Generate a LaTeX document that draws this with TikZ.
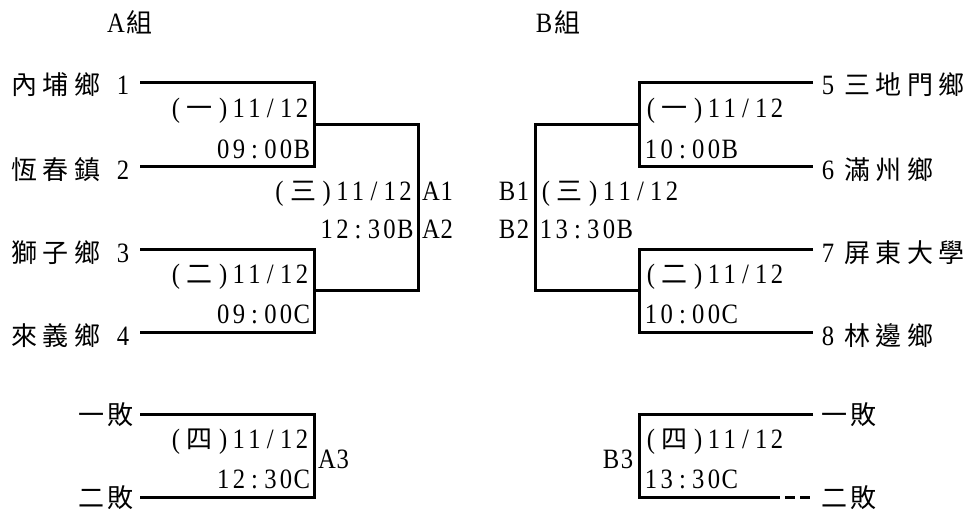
\documentclass[tikz,border=0pt]{standalone}
\usepackage{fontspec}
\setmainfont{Liberation Serif}[FakeStretch=0.88]
\newfontfamily\cjkfont{Noto Sans CJK TC}
\makeatletter
% half-width (Latin) characters, each in a fixed box
\newcommand\hw[1]{\hw@loop#1\@nil}
\def\hw@loop#1{\ifx#1\@nil\else\makebox[15.75pt]{#1}\expandafter\hw@loop\fi}
% full-width (CJK) characters, each in a fixed box
\newcommand\fw[2][31.5pt]{\def\fw@w{#1}\fw@loop#2\@nil}
\def\fw@loop#1{\ifx#1\@nil\else\makebox[\fw@w]{\cjkfont\fontsize{26}{30}\selectfont#1}\expandafter\fw@loop\fi}
\makeatother
\begin{document}
\begin{tikzpicture}[x=1pt,y=-1pt,
  br/.style={line width=3pt},
  lbl/.style={inner sep=0pt, font=\fontsize{28}{30}\selectfont},
  le/.style={lbl, anchor=base east},
  lw/.style={lbl, anchor=base west}]
\useasboundingbox[fill=white] (0,0) rectangle (977,511);

% headers
\node[lw] (hA) at (108,33) {\hw{A}\fw{組}};
\node[lw] (hB) at (536,33) {\hw{B}\fw{組}};

% ---------- A group ----------
\node[le] (t1) at (131,95)  {\fw{內埔鄉}\hspace{12pt}\hw{1}};
\node[le] (t2) at (131,179) {\fw{恆春鎮}\hspace{12pt}\hw{2}};
\node[le] (t3) at (131,262) {\fw{獅子鄉}\hspace{12pt}\hw{3}};
\node[le] (t4) at (131,345) {\fw{來義鄉}\hspace{12pt}\hw{4}};

\coordinate (a1t) at (140,82);  \coordinate (a1b) at (140,166);
\coordinate (a2t) at (140,249); \coordinate (a2b) at (140,332);
\coordinate (a1v) at (314,124); \coordinate (a2v) at (314,290);
\coordinate (asv) at (418,207);
\draw[br] (a1t) -| (a1v) |- (a1b);
\draw[br] (a2t) -| (a2v) |- (a2b);
\draw[br] (a1v) -| (asv) |- (a2v);

\node[le] (m1a) at (310,117) {\hw{(}\fw{一}\hw{)11/12}};
\node[le] (m1b) at (310,158) {\hw{09:00B}};
\node[le] (m2a) at (310,283) {\hw{(}\fw{二}\hw{)11/12}};
\node[le] (m2b) at (310,323) {\hw{09:00C}};
\node[le] (m3a) at (413.5,200) {\hw{(}\fw{三}\hw{)11/12}};
\node[le] (m3b) at (413.5,238) {\hw{12:30B}};
\node[lw] (A1) at (423,200) {\hw{A1}};
\node[lw] (A2) at (423,238) {\hw{A2}};

% A third place
\node[le] (al1) at (135,424) {\fw[29pt]{一敗}};
\node[le] (al2) at (135,507) {\fw[29pt]{二敗}};
\coordinate (a3t) at (140,414); \coordinate (a3b) at (140,497);
\coordinate (a3v) at (314,455);
\draw[br] (a3t) -| (a3v) |- (a3b);
\node[le] (m4a) at (310,448) {\hw{(}\fw{四}\hw{)11/12}};
\node[le] (m4b) at (310,488) {\hw{12:30C}};
\node[lw] (A3) at (319,468) {\hw{A3}};

% ---------- B group ----------
\node[lw] (t5) at (820,95)  {\hw{5}\hspace{5.5pt}\fw{三地門鄉}};
\node[lw] (t6) at (820,179) {\hw{6}\hspace{5.5pt}\fw{滿州鄉}};
\node[lw] (t7) at (820,262) {\hw{7}\hspace{5.5pt}\fw{屏東大學}};
\node[lw] (t8) at (820,345) {\hw{8}\hspace{5.5pt}\fw{林邊鄉}};

\coordinate (b1t) at (813,82);  \coordinate (b1b) at (813,166);
\coordinate (b2t) at (813,249); \coordinate (b2b) at (813,332);
\coordinate (b1v) at (639,124); \coordinate (b2v) at (639,290);
\coordinate (bsv) at (535,207);
\draw[br] (b1t) -| (b1v) |- (b1b);
\draw[br] (b2t) -| (b2v) |- (b2b);
\draw[br] (b1v) -| (bsv) |- (b2v);

\node[lw] (n1a) at (643,117) {\hw{(}\fw{一}\hw{)11/12}};
\node[lw] (n1b) at (643,158) {\hw{10:00B}};
\node[lw] (n2a) at (643,283) {\hw{(}\fw{二}\hw{)11/12}};
\node[lw] (n2b) at (643,323) {\hw{10:00C}};
\node[lw] (n3a) at (538,200) {\hw{(}\fw{三}\hw{)11/12}};
\node[lw] (n3b) at (538,238) {\hw{13:30B}};
\node[le] (B1) at (531,200) {\hw{B1}};
\node[le] (B2) at (531,238) {\hw{B2}};

% B third place
\node[lw] (bl1) at (820,424) {\fw[29pt]{一敗}};
\node[lw] (bl2) at (820,507) {\fw[29pt]{二敗}};
\coordinate (b3t) at (813,414); \coordinate (b3b) at (780,497);
\coordinate (b3v) at (639,455); \coordinate (b3e) at (813,497);
\draw[br] (b3t) -| (b3v) |- (b3b);
\draw[br, dash pattern=on 10pt off 5pt, dash phase=10pt] (b3b) -- (b3e);
\node[lw] (n4a) at (643,448) {\hw{(}\fw{四}\hw{)11/12}};
\node[lw] (n4b) at (643,488) {\hw{13:30C}};
\node[le] (B3) at (635,468) {\hw{B3}};
\end{tikzpicture}
\end{document}
